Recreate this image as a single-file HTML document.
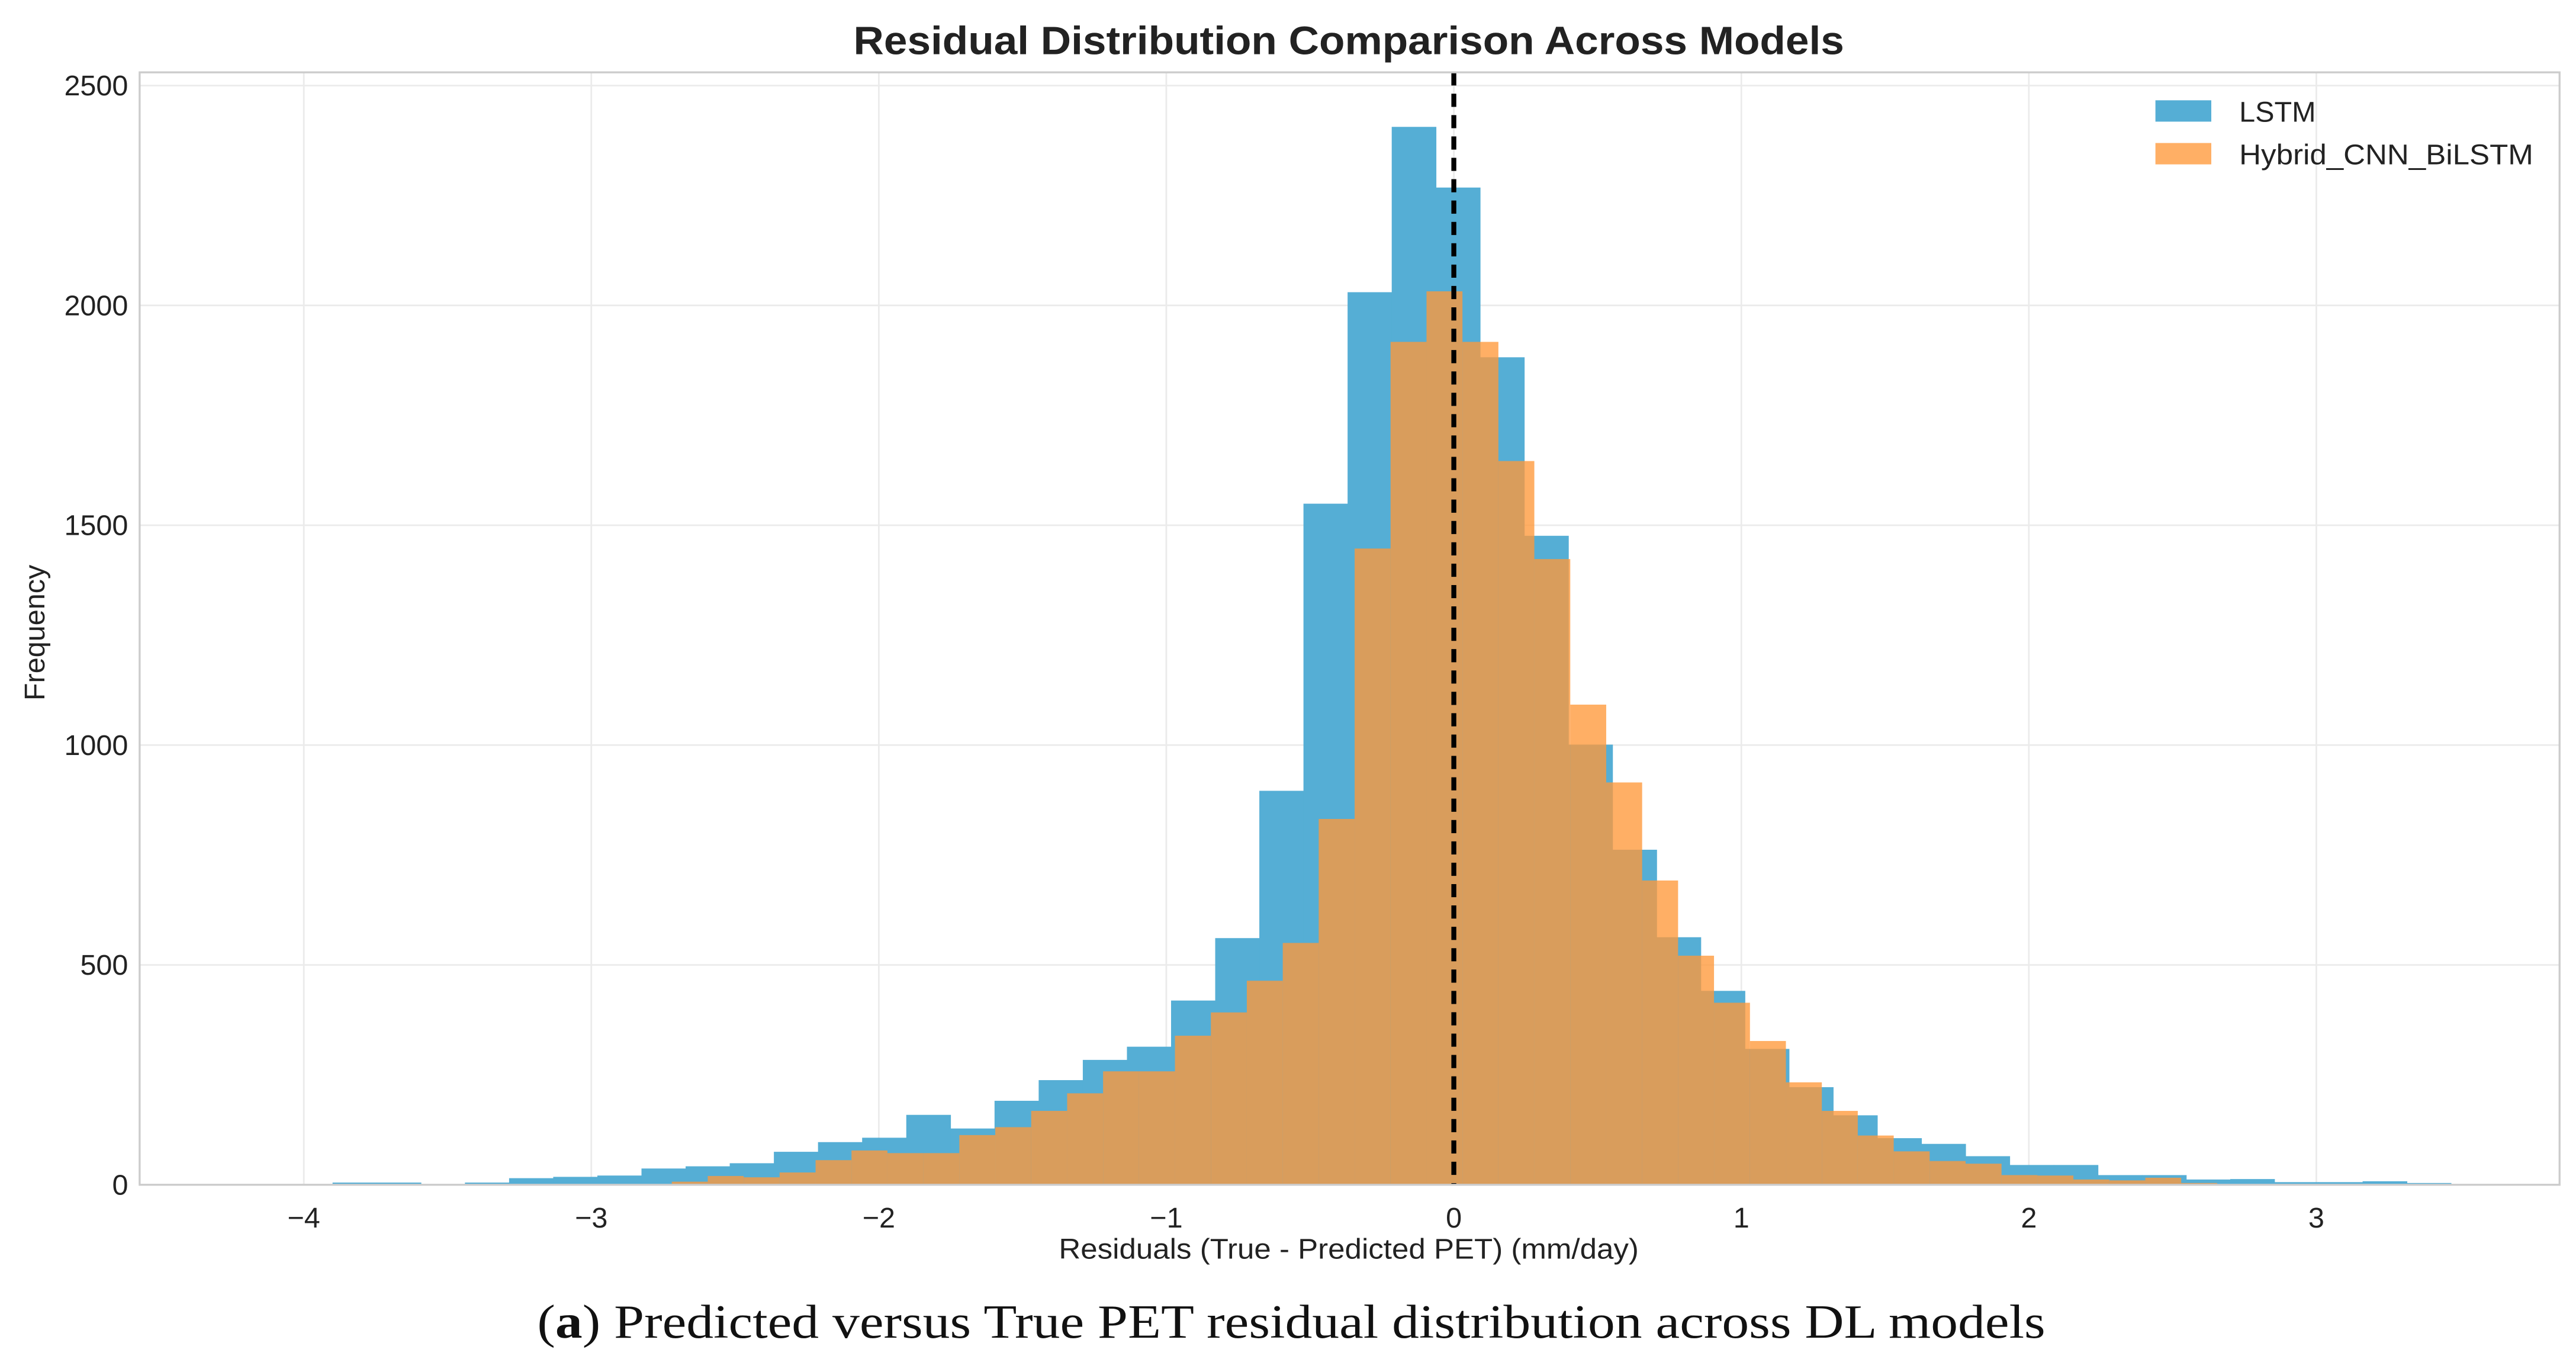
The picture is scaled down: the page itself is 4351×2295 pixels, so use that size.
<!DOCTYPE html>
<html><head><meta charset="utf-8"><style>
html,body{margin:0;padding:0;background:#fff;}
svg{display:block;font-family:"Liberation Sans",sans-serif;}
</style></head><body>
<svg id="chart" width="4351" height="2295" viewBox="0 0 1568 827" xmlns="http://www.w3.org/2000/svg">
<rect width="1568" height="827" fill="#fff"/>
<g id="grid"></g>
<g id="bars"></g>
<g id="axes"></g>
<text x="821" y="33" text-anchor="middle" font-size="24" font-weight="bold" fill="#222" textLength="603" lengthAdjust="spacingAndGlyphs">Residual Distribution Comparison Across Models</text>
<text x="821" y="766" text-anchor="middle" font-size="17.5" fill="#222" textLength="353" lengthAdjust="spacingAndGlyphs">Residuals (True - Predicted PET) (mm/day)</text>
<text transform="translate(27,385) rotate(-90)" text-anchor="middle" font-size="17.5" fill="#222">Frequency</text>
<g>
<rect x="1312" y="61" width="34" height="13" fill="#55aed5"/>
<text x="1363" y="74" font-size="17.5" fill="#222">LSTM</text>
<rect x="1312" y="87" width="34" height="13" fill="rgba(255,153,58,0.78)"/>
<text x="1363" y="100" font-size="17.5" fill="#222" textLength="179" lengthAdjust="spacingAndGlyphs">Hybrid_CNN_BiLSTM</text>
</g>
<text x="786" y="814" text-anchor="middle" font-size="29" fill="#111" font-family="'Liberation Serif',serif" textLength="918" lengthAdjust="spacingAndGlyphs">(<tspan font-weight="bold">a</tspan>) Predicted versus True PET residual distribution across DL models</text>
</svg>
<script>
const xTicks = [-4,-3,-2,-1,0,1,2,3];
const yTicks = [0,500,1000,1500,2000,2500];
const lstmStart = -3.9;
const lstmWidth = 0.1535;
const lstmCounts = [5,5,0,5,15,18,21,37,42,49,75,97,107,159,128,191,238,284,314,419,561,896,1549,2030,2406,2268,1882,1476,1001,762,563,441,309,222,158,106,93,65,45,45,22,22,12,13,6,6,8,4];
const hybStart = -2.72;
const hybWidth = 0.125;
const hybCounts = [7,20,17,28,56,78,72,72,113,131,168,208,258,258,339,392,464,550,832,1447,1917,2032,1917,1646,1423,1092,915,692,521,414,327,233,168,112,76,54,48,22,21,12,10,16,4];
const refLine = 0;

const L=85,R=1558,T=44,B=721;
const X0=-4.571,X1=3.846,Y1=2530;
const sx=v=>L+(v-X0)/(X1-X0)*(R-L);
const sy=v=>B-v/Y1*(B-T);
const NS="http://www.w3.org/2000/svg";
function mk(tag,attrs,parent){const e=document.createElementNS(NS,tag);for(const k in attrs)e.setAttribute(k,attrs[k]);parent.appendChild(e);return e;}
const grid=document.getElementById('grid'),bars=document.getElementById('bars'),axes=document.getElementById('axes');
xTicks.forEach(t=>{
  const g=mk('line',{x1:sx(t),x2:sx(t),y1:T,y2:B,stroke:'#ebebeb','stroke-width':1},grid);
  
  
  const lb=mk('text',{x:sx(t),y:747,'text-anchor':'middle','font-size':17.5,fill:'#222'},axes);
  lb.textContent=(t<0?'\u2212'+(-t):String(t));
  
  
});
yTicks.forEach(t=>{
  const g=mk('line',{x1:L,x2:R,y1:sy(t),y2:sy(t),stroke:'#ebebeb','stroke-width':1},grid);
  
  
  const lb=mk('text',{x:78,y:sy(t)+6,'text-anchor':'end','font-size':17.5,fill:'#222'},axes);
  lb.textContent=String(t);
  
  
});
lstmCounts.forEach((c,i)=>{
  const x0=sx(lstmStart+i*lstmWidth),x1=sx(lstmStart+(i+1)*lstmWidth);
  const r=mk('rect',{x:x0,y:sy(c),width:x1-x0+0.3,height:B-sy(c),fill:'#55aed5'},bars);
  
  
});
hybCounts.forEach((c,i)=>{
  const x0=sx(hybStart+i*hybWidth),x1=sx(hybStart+(i+1)*hybWidth);
  const r=mk('rect',{x:x0,y:sy(c),width:x1-x0,height:B-sy(c),fill:'rgba(255,153,58,0.78)'},bars);
  
  
});
const dl=mk('line',{x1:sx(refLine),x2:sx(refLine),y1:T,y2:B,stroke:'#000','stroke-width':3,'stroke-dasharray':'8,5'},axes);


const fr=mk('rect',{x:L,y:T,width:R-L,height:B-T,fill:'none',stroke:'#cccccc','stroke-width':1.2},axes);


</script>
</body></html>
